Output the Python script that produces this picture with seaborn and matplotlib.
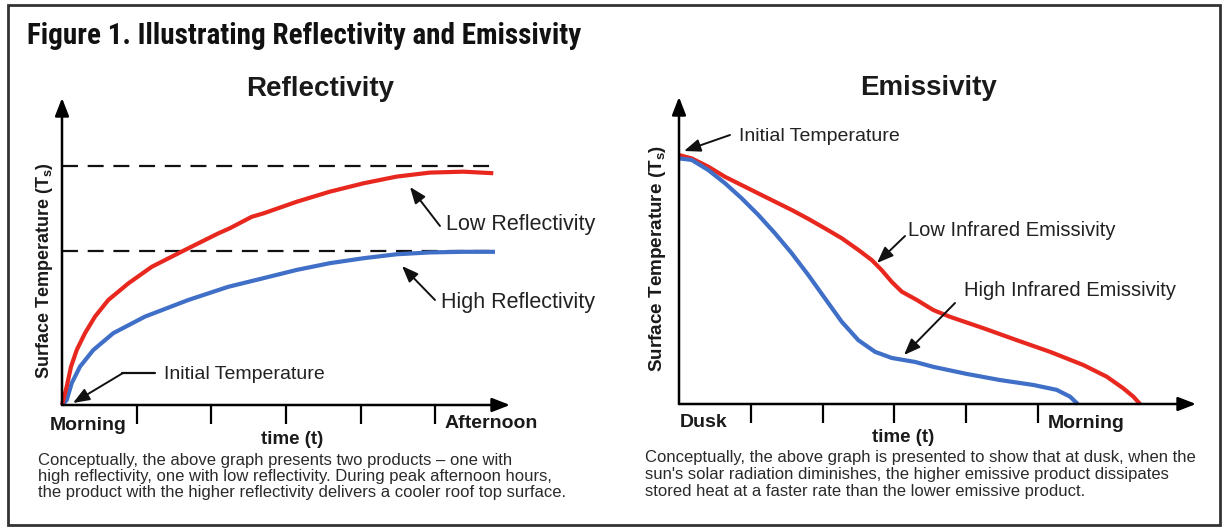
import matplotlib
matplotlib.use("Agg")
import matplotlib.pyplot as plt
import seaborn as sns
import pandas as pd
from matplotlib.transforms import Affine2D
from matplotlib.patches import Rectangle
from matplotlib.text import Annotation
from matplotlib.lines import Line2D
from matplotlib import font_manager as fm

# ---------------- data ----------------
# Reflectivity panel (time from morning to afternoon, relative surface temperature)
low_refl_time = [0, 0.063, 0.121, 0.197, 0.308, 0.442, 0.620, 0.888, 1.201, 1.647, 2.093,
                 2.250, 2.541, 2.696, 3.143, 3.589, 4.035, 4.482, 4.928, 5.374, 5.776]
low_refl_temp = [0, 0.060, 0.125, 0.179, 0.234, 0.288, 0.342, 0.396, 0.450, 0.505, 0.559,
                 0.576, 0.613, 0.624, 0.662, 0.695, 0.722, 0.744, 0.757, 0.760, 0.755]
high_refl_time = [0, 0.063, 0.130, 0.241, 0.419, 0.687, 1.112, 1.691, 2.227, 2.696, 3.143,
                  3.589, 4.035, 4.482, 4.928, 5.374, 5.799]
high_refl_temp = [0, 0.016, 0.071, 0.125, 0.179, 0.234, 0.288, 0.342, 0.385, 0.413, 0.440,
                  0.462, 0.478, 0.491, 0.497, 0.499, 0.499]
refl_limits = [0.778, 0.502]          # dashed equilibrium levels
refl_limit_end = [5.76, 5.80]
refl_ticks = [1, 2, 3, 4, 5]

# Emissivity panel (time from dusk to morning)
low_emis_time = [0, 0.177, 0.408, 0.641, 0.873, 1.104, 1.337, 1.570, 1.801, 2.033, 2.266,
                 2.497, 2.684, 2.823, 2.962, 3.102, 3.311, 3.542, 3.774, 4.238, 4.703,
                 5.167, 5.631, 5.957, 6.188, 6.327, 6.421]
low_emis_temp = [0.811, 0.800, 0.773, 0.740, 0.713, 0.686, 0.659, 0.632, 0.603, 0.572, 0.540,
                 0.502, 0.469, 0.436, 0.398, 0.366, 0.339, 0.306, 0.284, 0.247, 0.208,
                 0.170, 0.127, 0.089, 0.051, 0.024, 0.0]
high_emis_time = [0, 0.177, 0.408, 0.641, 0.873, 1.104, 1.337, 1.570, 1.801, 2.033, 2.266,
                  2.497, 2.730, 2.962, 3.287, 3.542, 4.007, 4.471, 4.935, 5.260, 5.446, 5.553]
high_emis_temp = [0.800, 0.795, 0.762, 0.719, 0.670, 0.616, 0.556, 0.491, 0.420, 0.344, 0.268,
                  0.208, 0.170, 0.150, 0.137, 0.121, 0.098, 0.078, 0.062, 0.046, 0.024, 0.0]
emis_ticks = [1, 2, 3, 4, 5]

RED = "#e8281e"
BLUE = "#3f6fc6"

# ---------------- style ----------------
sns.set_theme(style="white")
plt.rcParams["font.family"] = ["Liberation Sans", "DejaVu Sans"]
plt.rcParams["mathtext.fontset"] = "custom"
plt.rcParams["mathtext.rm"] = "Liberation Sans:bold"
plt.rcParams["mathtext.it"] = "Liberation Sans:bold"
plt.rcParams["mathtext.bf"] = "Liberation Sans:bold"
plt.rcParams["lines.scale_dashes"] = False


def _weight(f):
    w = f.weight
    if isinstance(w, str):
        w = fm.weight_dict.get(w, 400)
    return w


PREFERRED = ["Liberation Sans Narrow", "Arimo", "Roboto Condensed", "Noto Sans Condensed",
             "Open Sans Condensed", "Noto Sans SemiCondensed", "Noto Sans ExtraCondensed",
             "DejaVu Sans Condensed", "Fira Sans Condensed", "Fira Sans Extra Condensed"]


def _rank(f):
    for i, p in enumerate(PREFERRED):
        if f.name.startswith(p):
            return (i, abs(_weight(f) - 700))
    return (len(PREFERRED), abs(_weight(f) - 700))


# bold narrow font for the figure heading, if one is installed
title_kw = dict(family=["Liberation Sans", "DejaVu Sans"], weight="bold")
named = [f for f in fm.fontManager.ttflist
         if ("Narrow" in f.name or "Condensed" in f.name) and _weight(f) >= 600]
stretched = [f for f in fm.fontManager.ttflist
             if str(f.stretch) in ("condensed", "semi-condensed", "extra-condensed")
             and _weight(f) >= 600]
if named:
    named.sort(key=_rank)
    title_kw = dict(family=[named[0].name, "DejaVu Sans"], weight=_weight(named[0]))
elif stretched:
    title_kw = dict(family=[stretched[0].name, "DejaVu Sans"], weight="bold",
                    stretch=str(stretched[0].stretch))

W, H = 1224, 529
fig = plt.figure(figsize=(W / 100, H / 100), dpi=100)
fig.patch.set_facecolor("white")
PX = Affine2D().scale(1, -1).translate(0, H)   # top-left pixel coordinates


def add_ax(x0, y_bottom, x1, y_top):
    return fig.add_axes([x0 / W, (H - y_bottom) / H, (x1 - x0) / W, (y_bottom - y_top) / H])


def style_axis(ax, xmax, ticks):
    ax.set_xlim(0, xmax)
    ax.set_ylim(0, 1)
    for s in ax.spines.values():
        s.set_visible(False)
    ax.set_facecolor("none")
    ax.set_yticks([])
    ax.set_xticks(ticks)
    ax.set_xticklabels([])
    ax.tick_params(axis="x", bottom=True, direction="out", length=14, width=1.6, color="black")
    ax.set_xlabel("")
    ax.set_ylabel("")
    ap = dict(arrowstyle="-|>,head_length=0.9,head_width=0.35", lw=1.8, color="black",
              shrinkA=0, shrinkB=0, mutation_scale=12)
    ax.annotate("", xy=(1, 0), xytext=(0, 0), xycoords="axes fraction", arrowprops=ap,
                annotation_clip=False)
    ax.annotate("", xy=(0, 1), xytext=(0, 0), xycoords="axes fraction", arrowprops=ap,
                annotation_clip=False)


def arrow(x0, y0, x1, y1, lw=1.4):
    fig.add_artist(Annotation(
        "", xy=(x1, y1), xytext=(x0, y0), xycoords=PX, textcoords=PX,
        arrowprops=dict(arrowstyle="-|>,head_length=0.9,head_width=0.35", lw=lw, color="#111111",
                        shrinkA=0, shrinkB=0, mutation_scale=11)))


# ---------------- left: Reflectivity ----------------
axL = add_ax(62, 405, 510, 98)
df_low = pd.DataFrame({"t": low_refl_time, "T": low_refl_temp})
df_high = pd.DataFrame({"t": high_refl_time, "T": high_refl_temp})
axL.hlines(refl_limits, 0, refl_limit_end, colors="#111111", linestyles=(0, (11.5, 7)), lw=1.6)
sns.lineplot(data=df_high, x="t", y="T", ax=axL, color=BLUE, lw=3.0, estimator=None, sort=False)
sns.lineplot(data=df_low, x="t", y="T", ax=axL, color=RED, lw=3.0, estimator=None, sort=False)
style_axis(axL, 6.0, refl_ticks)

# ---------------- right: Emissivity ----------------
axR = add_ax(679, 404, 1196, 97)
df_le = pd.DataFrame({"t": low_emis_time, "T": low_emis_temp})
df_he = pd.DataFrame({"t": high_emis_time, "T": high_emis_temp})
sns.lineplot(data=df_le, x="t", y="T", ax=axR, color=RED, lw=3.0, estimator=None, sort=False)
sns.lineplot(data=df_he, x="t", y="T", ax=axR, color=BLUE, lw=3.0, estimator=None, sort=False)
style_axis(axR, 7.2, emis_ticks)

for ax in (axL, axR):
    for ln in ax.lines:
        ln.set_clip_on(False)
        ln.set_solid_capstyle("butt")
        ln.set_solid_joinstyle("round")

# ---------------- texts ----------------
def ftext(x, y, s, **kw):
    kw.setdefault("va", "baseline")
    kw.setdefault("color", "#1a1a1a")
    return fig.text(x, y, s, transform=PX, **kw)


title = ftext(27, 44, "Figure 1. Illustrating Reflectivity and Emissivity", color="#111111",
              size=20, **title_kw)
renderer = fig.canvas.get_renderer()
tw = title.get_window_extent(renderer).width
title.set_fontsize(min(24, 20 * 551 / tw))

ftext(320, 96, "Reflectivity", ha="center", weight="bold", size=20)
ftext(929, 95, "Emissivity", ha="center", weight="bold", size=20)

ylab = "Surface Temperature (T$_\\mathrm{s}$)"
ftext(45, 271, ylab, rotation=90, ha="center", va="center", weight="bold", size=13)
ftext(658, 258, ylab, rotation=90, ha="center", va="center", weight="bold", size=13.6)

ftext(50, 430, "Morning", weight="bold", size=14)
ftext(445, 428, "Afternoon", weight="bold", size=14)
ftext(292, 444, "time (t)", ha="center", weight="bold", size=13.5)
ftext(680, 427, "Dusk", weight="bold", size=14)
ftext(1048, 428, "Morning", weight="bold", size=14)
ftext(903, 442, "time (t)", ha="center", weight="bold", size=13.5)

ann = dict(size=14.5, color="#222222")
ftext(446, 230, "Low Reflectivity", **dict(ann, size=15.5))
ftext(441, 308, "High Reflectivity", **dict(ann, size=15.5))
ftext(164, 379, "Initial Temperature", **dict(ann, size=14))
ftext(739, 141, "Initial Temperature", **dict(ann, size=14))
ftext(908, 236, "Low Infrared Emissivity", **ann)
ftext(964, 296, "High Infrared Emissivity", **ann)

arrow(440, 226, 410, 187)
arrow(435, 300, 402, 266)
fig.add_artist(Line2D([155 / W, 122 / W], [(H - 373) / H, (H - 373) / H],
                      color="#111111", lw=1.6, transform=fig.transFigure))
arrow(123, 373, 73, 403)
arrow(730, 135, 684, 151)
arrow(905, 236, 877, 263)
arrow(955, 303, 904, 355)

cap = dict(size=12.0, color="#2a2a2a")
left_caption = ["Conceptually, the above graph presents two products \u2013 one with",
                "high reflectivity, one with low reflectivity. During peak afternoon hours,",
                "the product with the higher reflectivity delivers a cooler roof top surface."]
right_caption = ["Conceptually, the above graph is presented to show that at dusk, when the",
                 "sun's solar radiation diminishes, the higher emissive product dissipates",
                 "stored heat at a faster rate than the lower emissive product."]
for i, line in enumerate(left_caption):
    ftext(38, 465 + 16 * i, line, **cap)
for i, line in enumerate(right_caption):
    ftext(645, 462 + 17 * i, line, **cap)

# frame
fig.add_artist(Rectangle((8 / W, (H - 525) / H), (1220 - 8) / W, (525 - 5) / H,
                         transform=fig.transFigure, fill=False, lw=2.0, edgecolor="#333333"))

fig.savefig("out.png", dpi=100)
